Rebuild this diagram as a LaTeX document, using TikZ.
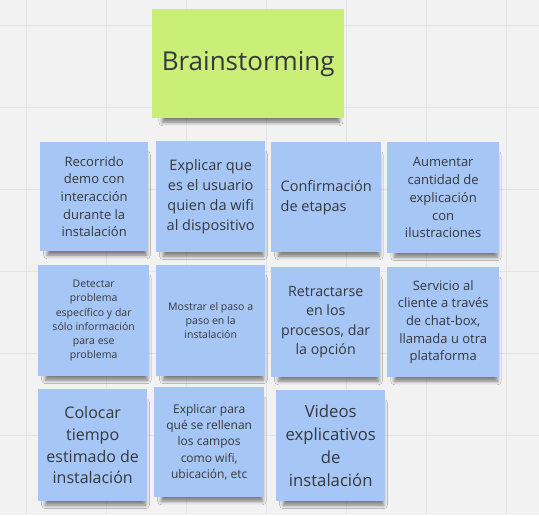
\documentclass[tikz,border=0pt]{standalone}
\usepackage{fontspec}
\setmainfont{Open Sans}
\usetikzlibrary{shadows.blur}
\definecolor{bgc}{RGB}{242,242,242}
\definecolor{gridc}{RGB}{228,228,228}
\definecolor{notegreen}{RGB}{201,239,121}
\definecolor{noteblue}{RGB}{166,199,245}
\definecolor{txt}{RGB}{55,55,60}
\tikzset{
  sticky/.style={anchor=north west, inner sep=2pt, align=center, text=txt,
    blur shadow={shadow xshift=3pt, shadow yshift=-9pt, shadow blur radius=4pt, shadow opacity=50, shadow scale=0.92}},
  bluenote/.style={sticky, fill=noteblue},
  greennote/.style={sticky, fill=notegreen},
}
\newcommand{\fs}[2]{\fontsize{#1}{#2}\selectfont}
\begin{document}
\begin{tikzpicture}[x=1pt,y=-1pt]
\fill[bgc] (0,0) rectangle (539,515);
\useasboundingbox (0,0) rectangle (539,515);
\foreach \gx in {26,106,186,266,346,426,506} \draw[gridc, line width=1pt] (\gx,0) -- (\gx,515);
\foreach \gy in {25,107,189,271,353,435} \draw[gridc, line width=1pt] (0,\gy) -- (539,\gy);

\node[greennote, minimum width=192pt, minimum height=109pt, font=\fs{26}{32}] (b) at (152,9) {Brainstorming};

\node[bluenote, minimum width=108pt, minimum height=109pt, font=\fs{13}{17.7}] (n1) at (40,142) {Recorrido\\demo con\\interacción\\durante la\\instalación};
\node[bluenote, minimum width=109pt, minimum height=111pt, font=\fs{14.5}{20}] (n2) at (156,141) {Explicar que\\es el usuario\\quien da wifi\\al dispositivo};
\node[bluenote, minimum width=110pt, minimum height=110pt, font=\fs{14.5}{20}, align=left] (n3) at (271,142) {Confirmación\\de etapas};
\node[bluenote, minimum width=112pt, minimum height=111pt, font=\fs{13}{17.7}] (n4) at (387,142) {Aumentar\\cantidad de\\explicación\\con\\ilustraciones};

\node[bluenote, minimum width=111pt, minimum height=111pt, font=\fs{10.5}{14.3}] (n5) at (38,265) {Detectar\\problema\\específico y dar\\sólo información\\para ese\\problema};
\node[bluenote, minimum width=109pt, minimum height=111pt, font=\fs{10.5}{14.3}] (n6) at (156,265) {Mostrar el paso a\\paso en la\\instalación};
\node[bluenote, minimum width=109pt, minimum height=110pt, font=\fs{14.2}{19.3}] (n7) at (271,267) {Retractarse\\en los\\procesos, dar\\la opción};
\node[bluenote, minimum width=112pt, minimum height=110pt, font=\fs{13}{17.7}] (n8) at (387,267) {Servicio al\\cliente a través\\de chat-box,\\llamada u otra\\plataforma};

\node[bluenote, minimum width=109pt, minimum height=112pt, font=\fs{16}{21.7}] (n9) at (38,389) {Colocar\\tiempo\\estimado de\\instalación};
\node[bluenote, minimum width=110pt, minimum height=110pt, font=\fs{12}{16.3}] (n10) at (154,387) {Explicar para\\qué se rellenan\\los campos\\como wifi,\\ubicación, etc};
\node[bluenote, minimum width=109pt, minimum height=111pt, font=\fs{16.7}{22.7}] (n11) at (276,390) {Videos\\explicativos\\de\\instalación};
\end{tikzpicture}
\end{document}
